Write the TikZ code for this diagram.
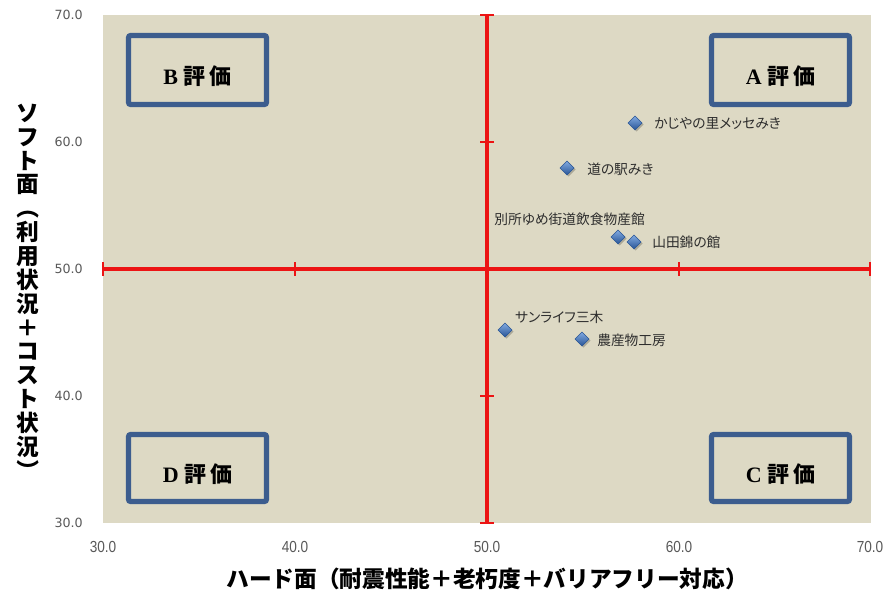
\documentclass[tikz,border=0pt]{standalone}
\usepackage{fontspec}
\newfontfamily\cjk[RawFeature=+palt]{Noto Sans CJK JP}
\newfontfamily\cjkv{Noto Sans CJK JP}
\newfontfamily\ylabfont{DejaVu Sans}
\newfontfamily\xlabfont[FakeStretch=0.85]{Liberation Sans}
\newfontfamily\serifb{Liberation Serif}
\definecolor{plotbg}{RGB}{221,217,196}
\definecolor{boxblue}{RGB}{60,93,142}
\definecolor{axisred}{RGB}{236,20,20}
\definecolor{ticktext}{RGB}{89,89,89}
\definecolor{labeltext}{RGB}{45,45,45}
\definecolor{ptlight}{RGB}{130,170,225}
\definecolor{ptdark}{RGB}{40,85,150}
\tikzset{
  axisline/.style={draw=axisred,line width=2.3pt},
  tickline/.style={draw=axisred,line width=1.5pt},
  evalbox/.style={draw=boxblue,line width=3.8pt,rounded corners=1.5pt},
  evaltext/.style={font=\fontsize{16.5}{18}\selectfont, text=black,inner sep=0pt},
  ytick/.style={anchor=east,font=\ylabfont\fontsize{9.5}{11}\selectfont,text=ticktext,inner sep=0pt},
  xtick/.style={anchor=center,font=\xlabfont\fontsize{12}{14}\selectfont,text=ticktext,inner sep=0pt},
  ptlabel/.style={anchor=west,font=\cjk\fontsize{10.3}{12}\selectfont,text=labeltext,inner sep=0pt},
  axistitle/.style={font=\cjkv\bfseries\fontsize{17}{17.9}\selectfont,text=black,inner sep=0pt}
}
\usetikzlibrary{calc}
\newcommand{\ptmark}[1]{%
  \fill[black,opacity=0.22] ($(#1)+(1.5,-5.5)$) -- ++(7,7) -- ++(-7,7) -- ++(-7,-7) -- cycle;
  \shade[top color=ptlight,bottom color=ptdark,draw=ptdark,line width=0.3pt]
    ($(#1)+(0,-7)$) -- ++(7,7) -- ++(-7,7) -- ++(-7,-7) -- cycle;
}
\newcommand{\vparL}{\rotatebox[origin=c]{-90}{（}}
\newcommand{\vparR}{\rotatebox[origin=c]{-90}{）}}
\begin{document}
\begin{tikzpicture}[x=0.75pt,y=-0.75pt]
\useasboundingbox (0,0) rectangle (888,594);
\fill[white] (0,0) rectangle (888,594);
\fill[plotbg] (103,15) rectangle (871,523);

% quadrant boxes
\draw[evalbox] (128.5,35.5) rectangle (266.5,104.5);
\draw[evalbox] (711.5,35.5) rectangle (849.5,104.5);
\draw[evalbox] (128.5,434.5) rectangle (266.5,501.5);
\draw[evalbox] (711.5,434.5) rectangle (849.5,501.5);
\node[evaltext] (B) at (197.5,76) {\serifb\bfseries B\hspace{4pt}\cjkv\bfseries 評\hspace{3pt}価};
\node[evaltext] (A) at (780.5,76) {\serifb\bfseries A\hspace{4pt}\cjkv\bfseries 評\hspace{3pt}価};
\node[evaltext] (D) at (197.5,474) {\serifb\bfseries D\hspace{4pt}\cjkv\bfseries 評\hspace{3pt}価};
\node[evaltext] (C) at (780.5,474) {\serifb\bfseries C\hspace{4pt}\cjkv\bfseries 評\hspace{3pt}価};

% red axes
\coordinate (xl) at (103,269);
\coordinate (xr) at (870,269);
\coordinate (yt) at (487,15);
\coordinate (yb) at (487,523);
\draw[axisline] (xl) -- (xr);
\draw[axisline] (yt) -- (yb);
\foreach \x in {103,295,679,870} \draw[tickline] (\x,262) -- (\x,276);
\foreach \y in {15,142,396,523} \draw[tickline] (480,\y) -- (494,\y);

% tick labels
\node[ytick] (y70) at (83,15) {70.0};
\node[ytick] (y60) at (83,142) {60.0};
\node[ytick] (y50) at (83,269) {50.0};
\node[ytick] (y40) at (83,396) {40.0};
\node[ytick] (y30) at (83,523) {30.0};
\node[xtick] (x30) at (103,547) {30.0};
\node[xtick] (x40) at (295,547) {40.0};
\node[xtick] (x50) at (487,547) {50.0};
\node[xtick] (x60) at (679,547) {60.0};
\node[xtick] (x70) at (870,547) {70.0};

% data points
\coordinate (p1) at (635,123);
\coordinate (p2) at (567,168);
\coordinate (p3) at (618,237);
\coordinate (p4) at (634,242);
\coordinate (p5) at (505,330);
\coordinate (p6) at (582,339);
\ptmark{p1}
\ptmark{p2}
\ptmark{p3}
\ptmark{p4}
\ptmark{p5}
\ptmark{p6}
\node[ptlabel] (l1) at (654,123) {かじやの里メッセみき};
\node[ptlabel] (l2) at (587,169) {道の駅みき};
\node[ptlabel] (l3) at (494,219) {別所ゆめ街道飲食物産館};
\node[ptlabel] (l4) at (652,242) {山田錦の館};
\node[ptlabel] (l5) at (515,317) {サンライフ三木};
\node[ptlabel] (l6) at (597,340) {農産物工房};

% axis titles
\node[axistitle] (xt) at (487,579) {ハード面（耐震性能＋老朽度＋バリアフリー対応）};
\node[axistitle,align=center] (yttl) at (28,293) {ソ\\フ\\ト\\面\\\vparL\\利\\用\\状\\況\\＋\\コ\\ス\\ト\\状\\況\\\vparR};
\end{tikzpicture}
\end{document}
